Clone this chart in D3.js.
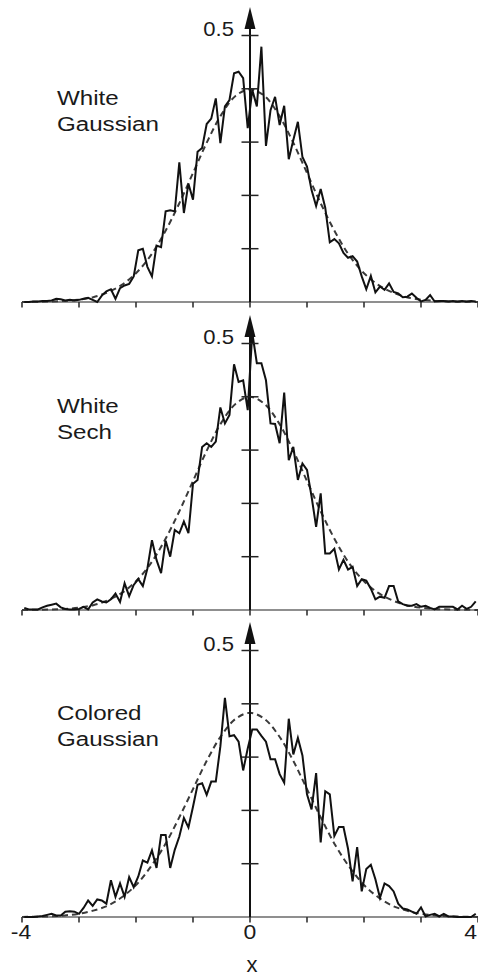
<!DOCTYPE html>
<html>
<head>
<meta charset="utf-8">
<script src="https://cdn.jsdelivr.net/npm/d3@7"></script>
<style>
  body { margin: 0; background: #fff; }
  svg { display: block; }
  text { font-family: "Liberation Sans", Arial, Helvetica, sans-serif; fill: #1a1a1a; }
</style>
</head>
<body>
<svg id="chart" width="478" height="977"></svg>
<script>
// ---- data -------------------------------------------------------------
const panelLabels = [["White", "Gaussian"], ["White", "Sech"], ["Colored", "Gaussian"]];

// histogram: 100 bins of width 0.08 on [-4, 4]
const binStart = -3.96;
const binWidth = 0.08;

const histWhiteGaussian = [
  0.000, 0.000, 0.001, 0.001, 0.002, 0.002, 0.003, 0.006, 0.005, 0.003,
  0.004, 0.003, 0.004, 0.006, 0.008, 0.004, 0.000, 0.012, 0.020, 0.024,
  0.006, 0.026, 0.031, 0.034, 0.048, 0.097, 0.100, 0.066, 0.048, 0.106,
  0.103, 0.170, 0.172, 0.170, 0.262, 0.167, 0.222, 0.192, 0.282, 0.289,
  0.334, 0.344, 0.382, 0.298, 0.367, 0.379, 0.429, 0.432, 0.420, 0.326,
  0.398, 0.367, 0.479, 0.293, 0.360, 0.385, 0.332, 0.368, 0.268, 0.304,
  0.338, 0.272, 0.254, 0.210, 0.180, 0.212, 0.177, 0.112, 0.118, 0.110,
  0.092, 0.083, 0.086, 0.076, 0.048, 0.024, 0.049, 0.018, 0.029, 0.023,
  0.035, 0.019, 0.016, 0.009, 0.010, 0.016, 0.008, 0.001, 0.004, 0.013,
  0.001, 0.002, 0.002, 0.001, 0.002, 0.001, 0.002, 0.001, 0.002, 0.001
];

const histWhiteSech = [
  0.004, 0.001, 0.001, 0.001, 0.005, 0.008, 0.010, 0.012, 0.005, 0.002,
  0.001, 0.001, 0.002, 0.006, 0.001, 0.014, 0.020, 0.016, 0.014, 0.020,
  0.031, 0.015, 0.050, 0.026, 0.047, 0.058, 0.045, 0.078, 0.131, 0.094,
  0.069, 0.130, 0.100, 0.150, 0.144, 0.166, 0.144, 0.237, 0.244, 0.306,
  0.313, 0.306, 0.316, 0.380, 0.350, 0.366, 0.461, 0.428, 0.431, 0.375,
  0.520, 0.463, 0.463, 0.431, 0.350, 0.349, 0.313, 0.408, 0.281, 0.306,
  0.244, 0.275, 0.263, 0.213, 0.156, 0.219, 0.106, 0.106, 0.115, 0.076,
  0.094, 0.076, 0.081, 0.045, 0.058, 0.055, 0.040, 0.020, 0.025, 0.023,
  0.045, 0.045, 0.016, 0.011, 0.008, 0.008, 0.011, 0.006, 0.008, 0.004,
  0.001, 0.006, 0.006, 0.006, 0.006, 0.001, 0.008, 0.002, 0.006, 0.016
];

const histColoredGaussian = [
  0.000, 0.000, 0.000, 0.001, 0.002, 0.004, 0.006, 0.003, 0.003, 0.010,
  0.011, 0.010, 0.006, 0.017, 0.031, 0.021, 0.033, 0.031, 0.025, 0.069,
  0.038, 0.063, 0.038, 0.075, 0.056, 0.076, 0.106, 0.102, 0.125, 0.092,
  0.154, 0.154, 0.092, 0.126, 0.151, 0.186, 0.168, 0.207, 0.248, 0.251,
  0.229, 0.254, 0.254, 0.320, 0.411, 0.339, 0.341, 0.329, 0.275, 0.316,
  0.352, 0.352, 0.340, 0.329, 0.296, 0.296, 0.268, 0.252, 0.372, 0.305,
  0.336, 0.303, 0.230, 0.202, 0.270, 0.140, 0.236, 0.230, 0.152, 0.169,
  0.169, 0.128, 0.067, 0.131, 0.048, 0.090, 0.098, 0.071, 0.036, 0.063,
  0.058, 0.048, 0.025, 0.016, 0.014, 0.010, 0.006, 0.018, 0.001, 0.004,
  0.006, 0.001, 0.006, 0.001, 0.001, 0.000, 0.000, 0.000, 0.000, 0.006
];

// reference density, sampled every 0.25 on [-4, 4]
const fitStep = 0.25;
const fitWhiteGaussian = [
  0.0001, 0.0004, 0.0009, 0.002, 0.0044, 0.009, 0.018, 0.032, 0.054, 0.086,
  0.130, 0.183, 0.242, 0.301, 0.352, 0.387, 0.399, 0.387, 0.352, 0.301,
  0.242, 0.183, 0.130, 0.086, 0.054, 0.032, 0.018, 0.009, 0.0044, 0.002,
  0.0009, 0.0004, 0.0001
];
const fitWhiteSech = [
  0.0001, 0.0004, 0.0009, 0.002, 0.0044, 0.009, 0.018, 0.032, 0.054, 0.086,
  0.130, 0.183, 0.242, 0.301, 0.352, 0.387, 0.400, 0.387, 0.352, 0.301,
  0.242, 0.183, 0.130, 0.086, 0.054, 0.032, 0.018, 0.009, 0.0044, 0.002,
  0.0009, 0.0004, 0.0001
];
const fitColoredGaussian = [
  0.0002, 0.0006, 0.0013, 0.003, 0.006, 0.012, 0.021, 0.037, 0.060, 0.093,
  0.134, 0.185, 0.240, 0.295, 0.341, 0.372, 0.383, 0.372, 0.341, 0.295,
  0.240, 0.185, 0.134, 0.093, 0.060, 0.037, 0.021, 0.012, 0.006, 0.003,
  0.0013, 0.0006, 0.0002
];

const xTicks = [-4, -3, -2, -1, 0, 1, 2, 3, 4];
const xTickLabels = ["-4", "0", "4"];
const yTicks = [0.1, 0.2, 0.3, 0.4, 0.5];
const yTickLabels = ["0.5"];
const xTitle = "x";

const panels = [
  { labels: panelLabels[0], hist: histWhiteGaussian, fit: fitWhiteGaussian },
  { labels: panelLabels[1], hist: histWhiteSech, fit: fitWhiteSech },
  { labels: panelLabels[2], hist: histColoredGaussian, fit: fitColoredGaussian }
];

// ---- layout -----------------------------------------------------------
const svg = d3.select("#chart");
const baselines = [302, 610, 917];
const yExtent = 266.5;            // pixel height of 0 .. 0.5
const stretch = 1.15;             // wide lettering of the figure

const x = d3.scaleLinear().domain([-4, 4]).range([22, 478]);
const x0 = x(0);

panels.forEach((p, k) => {
  const base = baselines[k];
  const y = d3.scaleLinear().domain([0, 0.5]).range([base, base - yExtent]);
  const g = svg.append("g");

  // horizontal axis
  g.append("line")
    .attr("x1", x(-4)).attr("x2", x(4))
    .attr("y1", base).attr("y2", base)
    .attr("stroke", "#6a6a6a").attr("stroke-width", 1.6);
  g.selectAll("line.xt").data(xTicks).join("line")
    .attr("class", "xt")
    .attr("x1", d => x(d)).attr("x2", d => x(d))
    .attr("y1", base).attr("y2", base + 5.5)
    .attr("stroke", "#333").attr("stroke-width", 1.6);

  // reference density (dashed)
  const fitLine = d3.line()
    .x((d, i) => x(-4 + i * fitStep))
    .y(d => y(d))
    .curve(d3.curveCatmullRom.alpha(0.5));
  g.append("path")
    .datum(p.fit)
    .attr("d", fitLine)
    .attr("fill", "none")
    .attr("stroke", "#3a3a3a")
    .attr("stroke-width", 2)
    .attr("stroke-dasharray", "6,4");

  // histogram (solid)
  const histLine = d3.line()
    .x((d, i) => x(binStart + i * binWidth))
    .y(d => y(d));
  g.append("path")
    .datum(p.hist)
    .attr("d", histLine)
    .attr("fill", "none")
    .attr("stroke", "#111")
    .attr("stroke-width", 2)
    .attr("stroke-linejoin", "miter");

  // vertical axis with arrow
  const tipY = base - 295;
  g.append("line")
    .attr("x1", x0).attr("x2", x0)
    .attr("y1", base).attr("y2", tipY + 10)
    .attr("stroke", "#111").attr("stroke-width", 2);
  g.append("path")
    .attr("d", `M${x0},${tipY} L${x0 - 5.5},${tipY + 22} L${x0 + 5.5},${tipY + 22} Z`)
    .attr("fill", "#111");
  g.selectAll("line.yt").data(yTicks).join("line")
    .attr("class", "yt")
    .attr("x1", x0 - 8.5).attr("x2", x0 + 8.5)
    .attr("y1", d => y(d)).attr("y2", d => y(d))
    .attr("stroke", "#222").attr("stroke-width", 1.5);
  yTickLabels.forEach(t => {
    g.append("text")
      .attr("transform", `translate(${x0 - 16},${y(+t) + 0.5}) scale(1.05,1)`)
      .attr("text-anchor", "end")
      .attr("font-size", 21)
      .text(t);
  });

  // panel caption
  p.labels.forEach((s, j) => {
    g.append("text")
      .attr("transform", `translate(57,${base - 197 + j * 26}) scale(${stretch},1)`)
      .attr("font-size", 21)
      .text(s);
  });
});

// tick labels under the lowest axis
const lastBase = baselines[2];
xTickLabels.forEach((t, i) => {
  const last = i === xTickLabels.length - 1;
  svg.append("text")
    .attr("transform", `translate(${last ? x(+t) - 1 : x(+t) + (i === 0 ? -1 : 0)},${lastBase + 22}) scale(${stretch},1)`)
    .attr("text-anchor", last ? "end" : "middle")
    .attr("font-size", 20)
    .text(t);
});
svg.append("text")
  .attr("x", x0 + 2)
  .attr("y", lastBase + 55)
  .attr("text-anchor", "middle")
  .attr("font-size", 22)
  .text(xTitle);
</script>
</body>
</html>
